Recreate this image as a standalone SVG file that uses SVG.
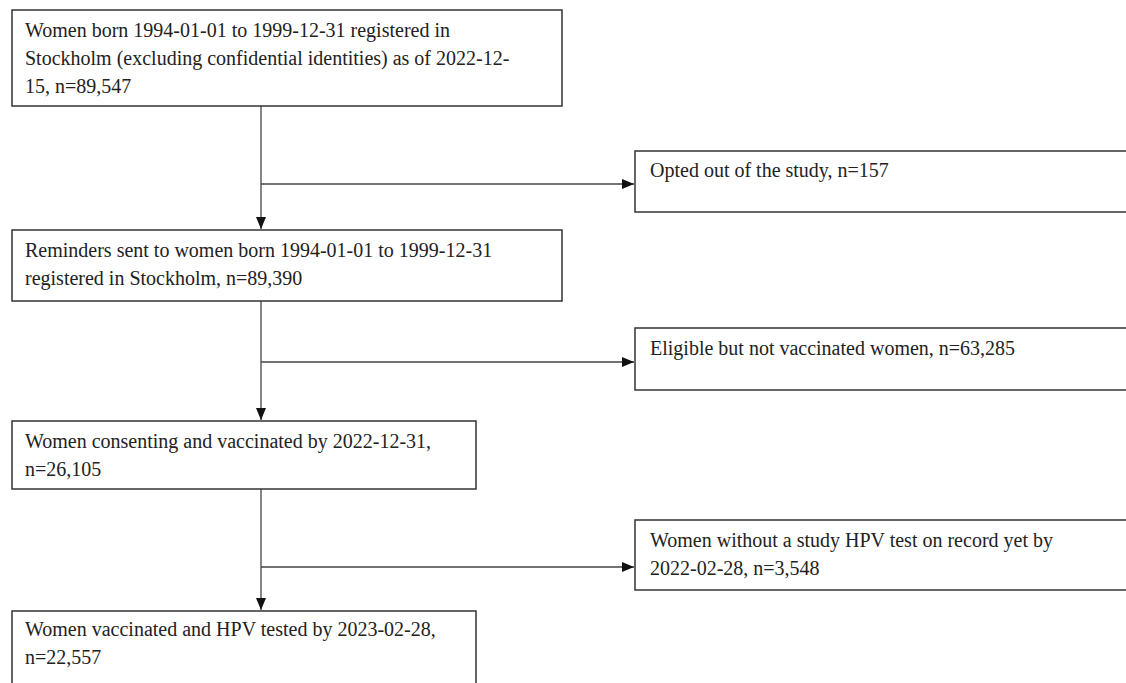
<svg xmlns="http://www.w3.org/2000/svg" width="1126" height="683" viewBox="0 0 1126 683">
<style>
.box{fill:#fff;stroke:#333;stroke-width:1.5}
.t{font-family:"Liberation Serif","Times New Roman",serif;font-size:20px;fill:#222}
.c{fill:none;stroke:#444;stroke-width:1.3}
</style>
<defs>
<marker id="ah" viewBox="0 0 12 12" refX="12" refY="6" markerWidth="12" markerHeight="12" markerUnits="userSpaceOnUse" orient="auto">
<path d="M0,1 L12,6 L0,11 Z" fill="#111"/>
</marker>
</defs>
<rect width="1126" height="683" fill="#fff"/>
<g id="connectors">
<path class="c" d="M261,106 V229" marker-end="url(#ah)"/>
<path class="c" d="M261,184 H634" marker-end="url(#ah)"/>
<path class="c" d="M261,301 V420" marker-end="url(#ah)"/>
<path class="c" d="M261,362 H634" marker-end="url(#ah)"/>
<path class="c" d="M261,489 V610" marker-end="url(#ah)"/>
<path class="c" d="M261,567 H634" marker-end="url(#ah)"/>
</g>
<g id="n1">
<rect class="box" x="12" y="10" width="550" height="96"/>
<text class="t" x="25" y="37">Women born 1994-01-01 to 1999-12-31 registered in</text>
<text class="t" x="25" y="65">Stockholm (excluding confidential identities) as of 2022-12-</text>
<text class="t" x="25" y="93">15, n=89,547</text>
</g>
<g id="n2">
<rect class="box" x="635" y="151" width="500" height="61"/>
<text class="t" x="650" y="177">Opted out of the study, n=157</text>
</g>
<g id="n3">
<rect class="box" x="12" y="230" width="550" height="71"/>
<text class="t" x="25" y="257">Reminders sent to women born 1994-01-01 to 1999-12-31</text>
<text class="t" x="25" y="285">registered in Stockholm, n=89,390</text>
</g>
<g id="n4">
<rect class="box" x="635" y="328" width="500" height="62"/>
<text class="t" x="650" y="355">Eligible but not vaccinated women, n=63,285</text>
</g>
<g id="n5">
<rect class="box" x="12" y="421" width="464" height="68"/>
<text class="t" x="25" y="448">Women consenting and vaccinated by 2022-12-31,</text>
<text class="t" x="25" y="476">n=26,105</text>
</g>
<g id="n6">
<rect class="box" x="635" y="520" width="500" height="70"/>
<text class="t" x="650" y="547">Women without a study HPV test on record yet by</text>
<text class="t" x="650" y="575">2022-02-28, n=3,548</text>
</g>
<g id="n7">
<rect class="box" x="12" y="611" width="464" height="80"/>
<text class="t" x="25" y="636">Women vaccinated and HPV tested by 2023-02-28,</text>
<text class="t" x="25" y="664">n=22,557</text>
</g>
</svg>
